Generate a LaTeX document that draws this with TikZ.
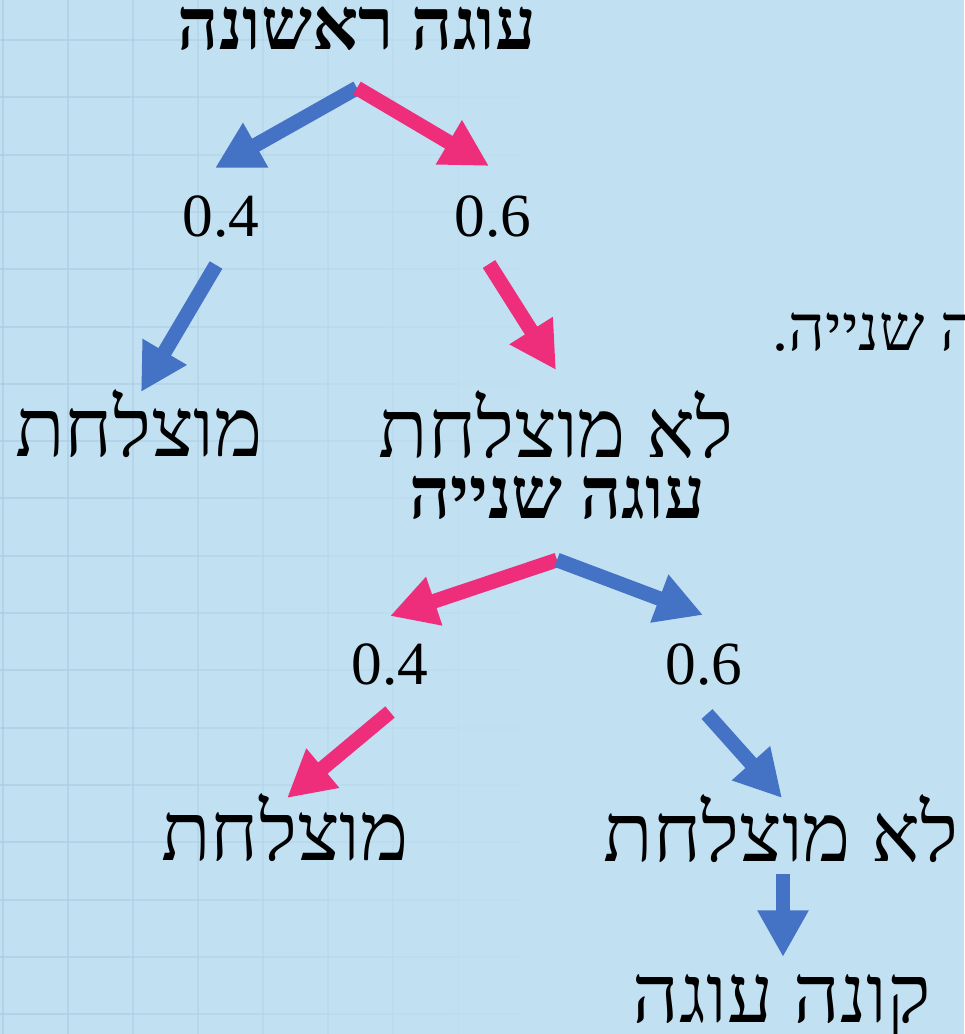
\documentclass[tikz,border=0pt]{standalone}
\usepackage{fontspec}
\setmainfont{Liberation Serif}
\newfontfamily\hebfont[Script=Hebrew]{Liberation Serif}
\TeXXeTstate=1
\usetikzlibrary{arrows.meta}
\definecolor{bgblue}{HTML}{C1E0F2}
\definecolor{gridblue}{HTML}{ABCDE3}
\definecolor{arrowblue}{HTML}{4472C4}
\definecolor{arrowpink}{HTML}{EE2D7B}
\newcommand\hebtext[1]{{\hebfont\beginR #1\endR}}
\tikzset{
  leaf/.style       = {inner sep=0pt, anchor=base,
                       font=\hebfont\fontsize{61}{66}\selectfont},
  treetitle/.style  = {leaf, font=\hebfont\bfseries\fontsize{54}{58}\selectfont},
  sidenote/.style   = {leaf, font=\hebfont\fontsize{48}{52}\selectfont},
  prob/.style       = {inner sep=0pt, anchor=base, font=\fontsize{46}{50}\selectfont},
  blue arrow/.style = {draw=arrowblue, line width=11pt,
                       -{Triangle[length=35pt,width=36pt]}},
  pink arrow/.style = {blue arrow, draw=arrowpink}
}

\begin{document}
\begin{tikzpicture}[x=0.75pt, y=-0.75pt]
  \useasboundingbox[fill=bgblue] (0,0) rectangle (964,1034);

  % faint grid on the left
  \foreach \k in {0,...,7}
    \draw[gridblue, line width=1.5pt, opacity=0.7-0.09*\k] (3+65*\k,0) -- (3+65*\k,1034);
  \foreach \j in {0,...,17}
    \foreach \k in {0,...,7}
      \draw[gridblue, line width=1.5pt, opacity=0.7-0.09*\k]
        (65*\k,40+57.3*\j) -- (65*\k+65,40+57.3*\j);

  % first cake
  \node[treetitle] (first) at (357,50) {\hebtext{עוגה ראשונה}};
  \coordinate (split1) at (357,88);
  \node[prob] (p1a) at (221,237) {0.4};
  \node[prob] (p1b) at (493,237) {0.6};
  \node[leaf] (ok1) at (139,456) {\hebtext{מוצלחת}};
  \node[leaf] (fail1) at (556,457) {\hebtext{לא מוצלחת}};

  \coordinate (t1a) at (215,168);
  \coordinate (t1b) at (489,166);
  \coordinate (s1a) at (216,265);
  \coordinate (t2a) at (141,392);
  \coordinate (s1b) at (489,264);
  \coordinate (t2b) at (556,370);
  \draw[blue arrow] (split1) -- (t1a);
  \draw[pink arrow] (split1) -- (t1b);
  \draw[blue arrow] (s1a) -- (t2a);
  \draw[pink arrow] (s1b) -- (t2b);

  \node[sidenote, anchor=base east] (note) at (978,350) {\hebtext{ה שנייה.}};

  % second cake
  \node[treetitle] (second) at (557,518) {\hebtext{עוגה שנייה}};
  \coordinate (split2) at (557,560);
  \node[prob] (p2a) at (390,684) {0.4};
  \node[prob] (p2b) at (704,684) {0.6};
  \node[leaf] (ok2) at (285,860) {\hebtext{מוצלחת}};
  \node[leaf] (fail2) at (781,861) {\hebtext{לא מוצלחת}};
  \node[leaf] (buy) at (782,1022) {\hebtext{קונה עוגה}};

  \coordinate (t3a) at (390,616);
  \coordinate (t3b) at (703,615);
  \coordinate (s2a) at (390,712);
  \coordinate (t4a) at (287,798);
  \coordinate (s2b) at (707,714);
  \coordinate (t4b) at (782,798);
  \coordinate (s3) at (783,874);
  \coordinate (t5) at (783,957);
  \draw[pink arrow] (split2) -- (t3a);
  \draw[blue arrow] (split2) -- (t3b);
  \draw[pink arrow] (s2a) -- (t4a);
  \draw[blue arrow] (s2b) -- (t4b);
  \draw[blue arrow] (s3) -- (t5);
\end{tikzpicture}
\end{document}
